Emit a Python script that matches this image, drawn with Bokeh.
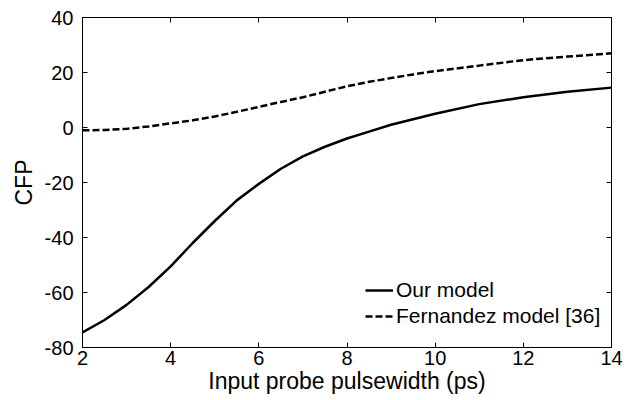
from bokeh.plotting import figure
from bokeh.models import LinearAxis, Range1d, FixedTicker, Legend, LegendItem
from bokeh.embed import file_html
from bokeh.resources import INLINE

# Data
x_our = [2, 2.5, 3, 3.5, 4, 4.5, 5, 5.5, 6, 6.5, 7, 7.5, 8, 8.5, 9, 9.5, 10, 11, 12, 13, 14]
y_our = [-74.5, -70, -64.5, -58, -50.5, -42, -34, -26.5, -20.5, -15, -10.5, -7, -4, -1.5, 1, 3, 5, 8.5, 11, 13, 14.5]

x_fern = [2, 2.5, 3, 3.5, 4, 4.5, 5, 5.5, 6, 6.5, 7, 7.5, 8, 8.5, 9, 9.5, 10, 11, 12, 13, 14]
y_fern = [-1, -0.9, -0.5, 0.4, 1.5, 2.6, 4, 5.7, 7.5, 9.3, 11, 13, 15, 16.6, 18, 19.3, 20.5, 22.5, 24.5, 25.8, 27]

x_ticks = [2, 4, 6, 8, 10, 12, 14]
y_ticks = [-80, -60, -40, -20, 0, 20, 40]

FONT = "Liberation Sans"

p = figure(width=635, height=400, output_backend="svg", toolbar_location=None,
           x_range=Range1d(2, 14), y_range=Range1d(-80, 40),
           min_border_left=82, min_border_right=24, min_border_top=17, min_border_bottom=53)
p.grid.visible = False
p.outline_line_color = "black"
p.outline_line_width = 1
p.background_fill_color = "white"
p.border_fill_color = "white"

for ax in (p.xaxis[0], p.yaxis[0]):
    ax.major_tick_in = 5
    ax.major_tick_out = 0
    ax.minor_tick_line_color = None
    ax.axis_line_color = "black"
    ax.major_tick_line_color = "black"
    ax.major_label_text_font = FONT
    ax.major_label_text_font_size = "20px"
    ax.major_label_text_color = "black"
    ax.axis_label_text_font = FONT
    ax.axis_label_text_font_size = "23px"
    ax.axis_label_text_font_style = "normal"
    ax.axis_label_text_color = "black"

p.xaxis[0].ticker = FixedTicker(ticks=x_ticks)
p.yaxis[0].ticker = FixedTicker(ticks=y_ticks)
p.xaxis[0].major_label_overrides = {v: str(v) for v in x_ticks}
p.yaxis[0].major_label_overrides = {v: str(v) for v in y_ticks}
p.xaxis[0].axis_label = "Input probe pulsewidth (ps)"
p.yaxis[0].axis_label = "CFP"
p.xaxis[0].major_label_standoff = 3
p.xaxis[0].axis_label_standoff = 0
p.yaxis[0].major_label_standoff = 9
p.yaxis[0].axis_label_standoff = 5

# mirrored ticks (top and right)
top = LinearAxis(ticker=FixedTicker(ticks=x_ticks), major_tick_in=5, major_tick_out=0,
                 minor_tick_line_color=None, major_label_standoff=0, axis_line_color="black",
                 major_label_overrides={v: "" for v in x_ticks})
right = LinearAxis(ticker=FixedTicker(ticks=y_ticks), major_tick_in=5, major_tick_out=0,
                   minor_tick_line_color=None, major_label_standoff=0, axis_line_color="black",
                   major_label_overrides={v: "" for v in y_ticks})
p.add_layout(top, "above")
p.add_layout(right, "right")

r1 = p.line(x_our, y_our, line_color="black", line_width=2.5)
r2 = p.line(x_fern, y_fern, line_color="black", line_width=2.5, line_dash="7 3")

legend = Legend(items=[LegendItem(label="Our model", renderers=[r1]),
                       LegendItem(label="Fernandez model [36]", renderers=[r2])],
                location=(283, 19))
legend.border_line_color = None
legend.background_fill_alpha = 0
legend.label_text_font = FONT
legend.label_text_font_size = "21px"
legend.label_text_color = "black"
legend.glyph_width = 28
legend.glyph_height = 20
legend.label_standoff = 3
legend.spacing = 2
legend.padding = 0
legend.margin = 0
p.add_layout(legend, "center")

open("out.html", "w").write(file_html(p, INLINE))
